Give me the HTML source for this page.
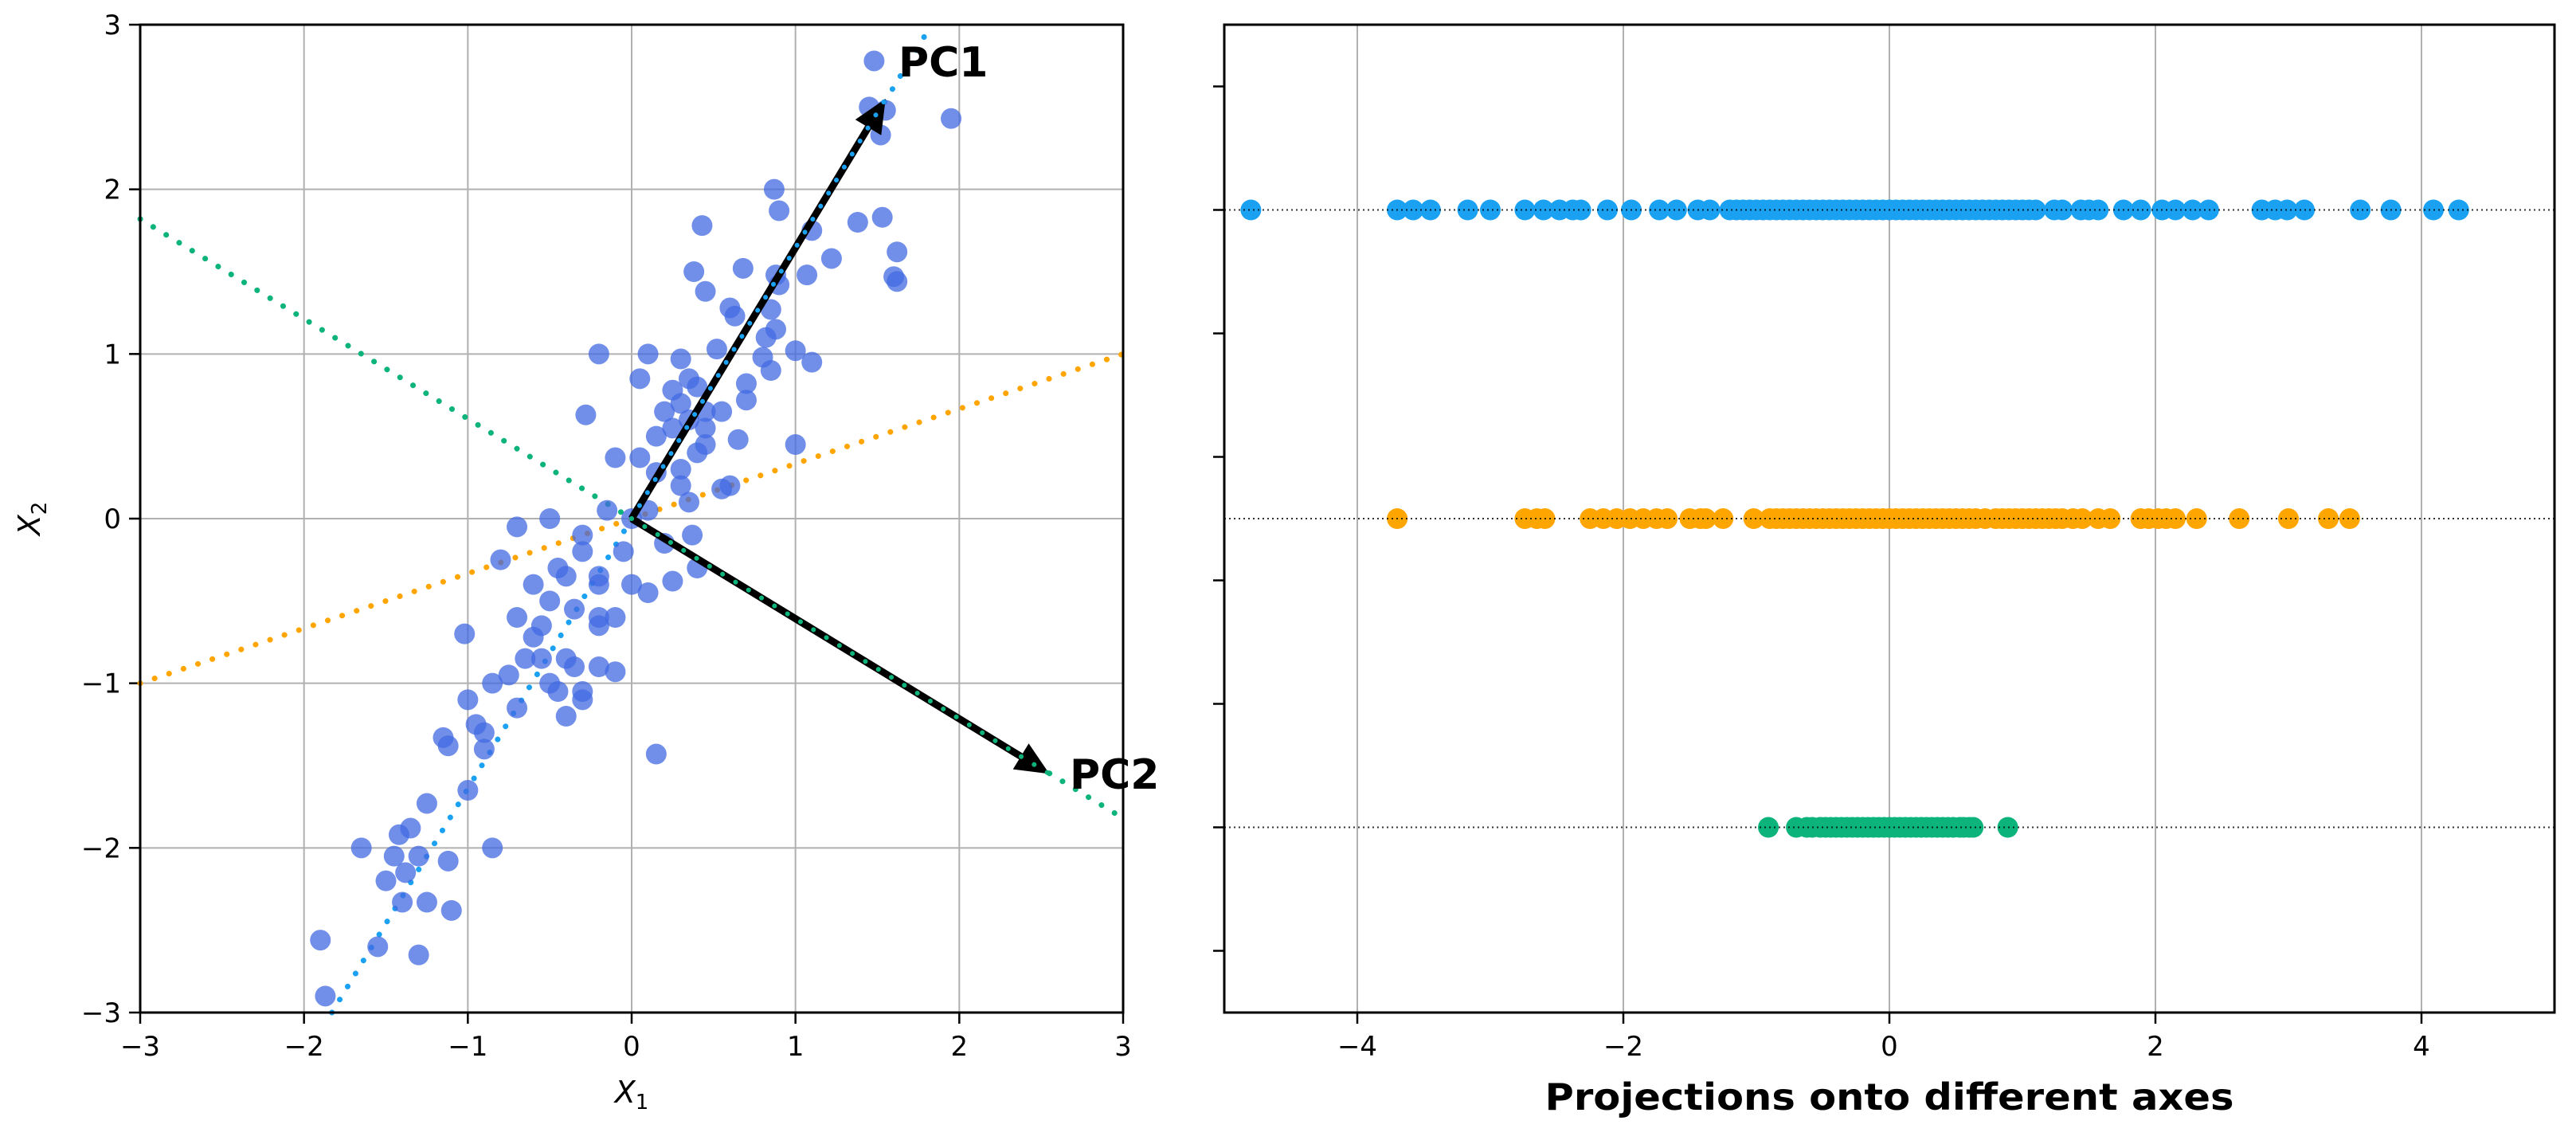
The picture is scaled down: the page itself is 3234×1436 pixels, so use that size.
<!DOCTYPE html>
<html><head><meta charset="utf-8"><style>
html,body{margin:0;padding:0;background:#fff;}
svg{display:block;font-family:"DejaVu Sans","Liberation Sans",sans-serif;}
</style></head><body>
<svg id="chart" xmlns="http://www.w3.org/2000/svg" width="3234" height="1436" viewBox="0 0 3234 1436">
<g id="left"></g>
<g id="right"></g>
</svg>
<script>
// ---- Left panel data ----
const scatterX = [1.48,1.45,1.55,1.95,1.52,0.87,0.9,1.38,1.53,0.43,1.1,1.62,1.22,0.38,0.68,0.88,1.07,1.6,1.62,0.9,0.45,0.6,0.63,0.85,0.88,0.82,0.52,1.0,1.1,0.8,0.85,-0.2,0.1,0.3,0.05,0.35,0.4,0.25,0.3,0.45,0.7,-0.28,0.2,0.35,0.45,0.15,0.65,1.0,-0.1,0.05,0.3,0.4,0.45,0.3,0.35,0.55,0.6,0.1,-0.7,-0.5,-0.3,-0.15,0.0,-0.3,-0.45,-0.4,-0.2,-0.6,0.2,0.37,0.4,-0.8,0.0,0.1,0.25,-0.5,-0.35,-0.2,-0.2,-0.1,-0.55,-0.6,-0.7,-0.65,-0.55,-0.75,-0.4,-0.35,-0.2,-0.1,-0.5,-0.45,-0.3,-0.3,-0.4,-0.7,-0.95,-1.0,-1.02,-0.85,-0.9,-0.9,-1.15,-1.12,-1.0,-1.25,-1.42,-1.35,-1.3,-1.12,-1.38,-1.5,-1.45,-1.65,-0.85,-1.25,-1.4,-1.1,-1.55,-1.3,-1.9,-1.87,0.15,-0.2,0.7,0.55,0.25,0.15,-0.05];
const scatterY = [2.78,2.5,2.48,2.43,2.33,2.0,1.87,1.8,1.83,1.78,1.75,1.62,1.58,1.5,1.52,1.48,1.48,1.47,1.44,1.42,1.38,1.28,1.23,1.27,1.15,1.1,1.03,1.02,0.95,0.98,0.9,1.0,1.0,0.97,0.85,0.85,0.8,0.78,0.7,0.65,0.72,0.63,0.65,0.6,0.55,0.5,0.48,0.45,0.37,0.37,0.3,0.4,0.45,0.2,0.1,0.18,0.2,0.05,-0.05,0.0,-0.1,0.05,0.0,-0.2,-0.3,-0.35,-0.35,-0.4,-0.15,-0.1,-0.3,-0.25,-0.4,-0.45,-0.38,-0.5,-0.55,-0.6,-0.65,-0.6,-0.65,-0.72,-0.6,-0.85,-0.85,-0.95,-0.85,-0.9,-0.9,-0.93,-1.0,-1.05,-1.05,-1.1,-1.2,-1.15,-1.25,-1.1,-0.7,-1.0,-1.3,-1.4,-1.33,-1.38,-1.65,-1.73,-1.92,-1.88,-2.05,-2.08,-2.15,-2.2,-2.05,-2.0,-2.0,-2.33,-2.33,-2.38,-2.6,-2.65,-2.56,-2.9,-1.43,-0.4,0.82,0.65,0.55,0.28,-0.2];
const xTicksL = [-3,-2,-1,0,1,2,3];
const yTicksL = [-3,-2,-1,0,1,2,3];
const pc1Vec = [1.55,2.55];
const pc2Vec = [2.55,-1.55];
const pc1Line = [[-1.83,-3.0],[1.8,2.95]];
const pc2Line = [[-3,1.82],[3,-1.82]];
const midLine = [[-3,-1],[3,1]];
// ---- Right panel data ----
const projPC1 = [-4.8,-3.7,-3.58,-3.45,-3.17,-3.0,-2.74,-2.6,-2.48,-2.38,-2.32,-2.12,-1.94,-1.73,-1.6,-1.44,-1.35,-1.2,-1.15,-1.1,-1.05,-1.0,-0.95,-0.9,-0.85,-0.8,-0.75,-0.7,-0.65,-0.6,-0.55,-0.5,-0.45,-0.4,-0.35,-0.3,-0.25,-0.2,-0.15,-0.1,-0.05,0.0,0.05,0.1,0.15,0.2,0.25,0.3,0.35,0.4,0.45,0.5,0.55,0.6,0.65,0.7,0.75,0.8,0.85,0.9,0.95,1.0,1.05,1.1,1.24,1.3,1.44,1.5,1.57,1.76,1.89,2.05,2.15,2.28,2.4,2.8,2.9,2.99,3.12,3.54,3.77,4.09,4.28];
const projMid = [-3.7,-2.74,-2.65,-2.59,-2.25,-2.15,-2.05,-1.95,-1.85,-1.75,-1.67,-1.5,-1.42,-1.38,-1.25,-1.02,-0.9,-0.85,-0.8,-0.75,-0.7,-0.65,-0.6,-0.55,-0.5,-0.45,-0.4,-0.35,-0.3,-0.25,-0.2,-0.15,-0.1,-0.05,0.0,0.05,0.1,0.15,0.2,0.25,0.3,0.35,0.4,0.45,0.5,0.55,0.6,0.65,0.72,0.8,0.85,0.9,0.95,1.0,1.05,1.1,1.15,1.2,1.25,1.3,1.38,1.45,1.57,1.66,1.89,1.95,2.02,2.08,2.15,2.31,2.63,3.0,3.3,3.46];
const projPC2 = [-0.91,-0.7,-0.62,-0.58,-0.52,-0.48,-0.44,-0.4,-0.36,-0.32,-0.28,-0.24,-0.2,-0.16,-0.12,-0.08,-0.04,0.0,0.04,0.08,0.12,0.16,0.2,0.24,0.28,0.32,0.36,0.4,0.44,0.48,0.53,0.56,0.6,0.63,0.89];
const xTicksR = [-4,-2,0,2,4];
const yTicksR = [-1.4,-1.0,-0.6,-0.2,0.2,0.6,1.0,1.4];
const rowLevels = [1,0,-1];

const NS="http://www.w3.org/2000/svg";
function mk(parent,tag,attrs){const e=document.createElementNS(NS,tag);for(const k in attrs)e.setAttribute(k,attrs[k]);parent.appendChild(e);return e;}

// Left axes
const L={x0:176,x1:1410,y0:31,y1:1271};
const lx=v=>L.x0+(v+3)/6*(L.x1-L.x0);
const ly=v=>L.y1-(v+3)/6*(L.y1-L.y0);
const gl=document.getElementById('left');
xTicksL.forEach(t=>{
  const g=mk(gl,'line',{x1:lx(t),x2:lx(t),y1:L.y0,y2:L.y1,stroke:'#b0b0b0','stroke-width':2});
  
  
  mk(gl,'line',{x1:lx(t),x2:lx(t),y1:L.y1,y2:L.y1+14,stroke:'#000','stroke-width':2.5});
  const tx=mk(gl,'text',{x:lx(t),y:L.y1+54,'text-anchor':'middle','font-size':34});
  tx.textContent=(t<0?'\u2212'+(-t):t);
  
  
});
yTicksL.forEach(t=>{
  const g=mk(gl,'line',{x1:L.x0,x2:L.x1,y1:ly(t),y2:ly(t),stroke:'#b0b0b0','stroke-width':2});
  
  
  mk(gl,'line',{x1:L.x0-14,x2:L.x0,y1:ly(t),y2:ly(t),stroke:'#000','stroke-width':2.5});
  const tx=mk(gl,'text',{x:L.x0-24,y:ly(t)+12,'text-anchor':'end','font-size':34});
  tx.textContent=(t<0?'\u2212'+(-t):t);
  
  
});
function dotted(parent,pts,color,name){
  const l=mk(parent,'line',{x1:lx(pts[0][0]),y1:ly(pts[0][1]),x2:lx(pts[1][0]),y2:ly(pts[1][1]),stroke:color,'stroke-width':7,'stroke-dasharray':'0.1 19','stroke-linecap':'round'});
  
  
}
dotted(gl,midLine,'#ffa500','orange-axis-line');
dotted(gl,pc2Line,'#0cb37a','pc2-axis-line');
dotted(gl,pc1Line,'#1ba1f2','pc1-axis-line');
scatterX.forEach((x,i)=>{
  const c=mk(gl,'circle',{cx:lx(x),cy:ly(scatterY[i]),r:13,fill:'#4169e1','fill-opacity':0.75});
  
  
});
function arrow(vec,color,name){
  const g=mk(gl,'g',{});
  
  
  const x0=lx(0),y0=ly(0),x1=lx(vec[0]),y1=ly(vec[1]);
  const dx=x1-x0,dy=y1-y0,len=Math.hypot(dx,dy),ux=dx/len,uy=dy/len;
  const hl=42,hw=19;const bx=x1-ux*hl,by=y1-uy*hl;
  mk(g,'line',{x1:x0,y1:y0,x2:bx,y2:by,stroke:'#000','stroke-width':9});
  mk(g,'polygon',{points:`${x1},${y1} ${bx-uy*hw},${by+ux*hw} ${bx+uy*hw},${by-ux*hw}`,fill:'#000'});
  mk(g,'line',{x1:x0,y1:y0,x2:x1,y2:y1,stroke:color,'stroke-width':6,'stroke-dasharray':'0.1 19','stroke-linecap':'round'});
}
arrow(pc1Vec,'#1ba1f2','pc1-arrow');
arrow(pc2Vec,'#0cb37a','pc2-arrow');
let t=mk(gl,'text',{x:1128,y:96,'font-size':52,'font-weight':'bold'});t.textContent='PC1';


t=mk(gl,'text',{x:1343,y:990,'font-size':52,'font-weight':'bold'});t.textContent='PC2';


const fr=mk(gl,'rect',{x:L.x0,y:L.y0,width:L.x1-L.x0,height:L.y1-L.y0,fill:'none',stroke:'#000','stroke-width':3});


t=mk(gl,'text',{x:793,y:1384,'text-anchor':'middle','font-size':38,'font-style':'italic'});
t.innerHTML='X<tspan font-size="26" dy="8" font-style="normal">1</tspan>';


t=mk(gl,'text',{x:0,y:0,'text-anchor':'middle','font-size':38,'font-style':'italic',transform:'translate(50,651) rotate(-90)'});
t.innerHTML='X<tspan font-size="26" dy="8" font-style="normal">2</tspan>';



// Right axes
const R={x0:1537,x1:3207,y0:31,y1:1271};
const rx=v=>R.x0+(v+5)/10*(R.x1-R.x0);
const ry=v=>R.y1-(v+1.6)/3.2*(R.y1-R.y0);
const gr=document.getElementById('right');
xTicksR.forEach(tk=>{
  const g=mk(gr,'line',{x1:rx(tk),x2:rx(tk),y1:R.y0,y2:R.y1,stroke:'#b0b0b0','stroke-width':2});
  
  
  mk(gr,'line',{x1:rx(tk),x2:rx(tk),y1:R.y1,y2:R.y1+14,stroke:'#000','stroke-width':2.5});
  const tx=mk(gr,'text',{x:rx(tk),y:R.y1+54,'text-anchor':'middle','font-size':34});
  tx.textContent=(tk<0?'\u2212'+(-tk):tk);
  
  
});
yTicksR.forEach(v=>{
  const tk=mk(gr,'line',{x1:R.x0-14,x2:R.x0,y1:ry(v),y2:ry(v),stroke:'#000','stroke-width':2.5});
  
  
});
const rows=[[projPC1,'#1ba1f2','pc1-projection'],[projMid,'#ffa500','orange-projection'],[projPC2,'#0cb37a','pc2-projection']];
rows.forEach((r,i)=>{
  const y=ry(rowLevels[i]);
  const g=mk(gr,'g',{});
  
  
  r[0].forEach(v=>{
    const c=mk(g,'circle',{cx:rx(v),cy:y,r:13,fill:r[1]});
    
    
  });
  const ln=mk(gr,'line',{x1:R.x0,x2:R.x1,y1:y,y2:y,stroke:'#000','stroke-width':2,'stroke-dasharray':'2 4','stroke-opacity':0.8});
  
  
});
const fr2=mk(gr,'rect',{x:R.x0,y:R.y0,width:R.x1-R.x0,height:R.y1-R.y0,fill:'none',stroke:'#000','stroke-width':3});


t=mk(gr,'text',{x:(R.x0+R.x1)/2,y:1393,'text-anchor':'middle','font-size':46,'font-weight':'bold',textLength:865,lengthAdjust:'spacingAndGlyphs'});
t.textContent='Projections onto different axes';


</script>
</body></html>
